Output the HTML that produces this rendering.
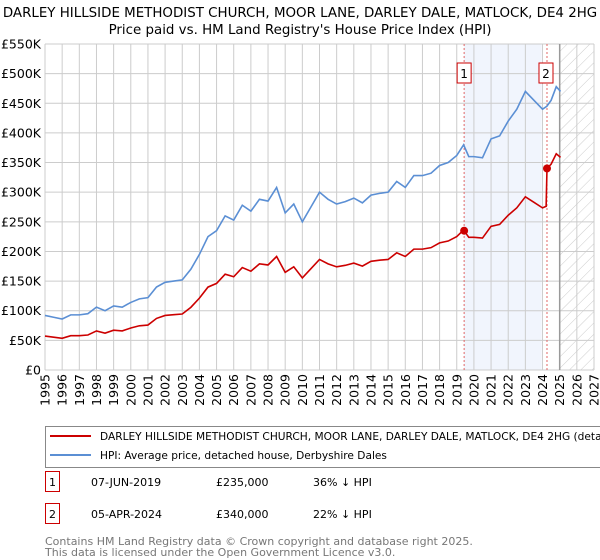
<!DOCTYPE html>
<html><head><meta charset="utf-8">
<style>
body{margin:0;background:#fff;font-family:"Liberation Sans","DejaVu Sans",sans-serif;}
#wrap{position:relative;width:600px;height:560px;overflow:hidden;}
svg text{font-family:"DejaVu Sans","Liberation Sans",sans-serif;}
</style></head>
<body>
<div id="wrap">
<svg id="chart" width="600" height="560" viewBox="0 0 600 560"></svg>
</div>
<script>
const hpiYears=[1995,1995.5,1996,1996.5,1997,1997.5,1998,1998.5,1999,1999.5,2000,2000.5,2001,2001.5,2002,2002.5,2003,2003.5,2004,2004.5,2005,2005.5,2006,2006.5,2007,2007.5,2008,2008.5,2009,2009.5,2010,2010.5,2011,2011.5,2012,2012.5,2013,2013.5,2014,2014.5,2015,2015.5,2016,2016.5,2017,2017.5,2018,2018.5,2019,2019.4,2019.7,2020,2020.5,2021,2021.5,2022,2022.5,2023,2023.5,2024,2024.25,2024.5,2024.8,2025.05];
const hpiValues=[92,89,86,93,93,95,106,100,108,106,114,120,122,140,148,150,152,170,195,225,235,260,253,278,268,288,285,308,265,280,250,275,300,288,280,284,290,282,295,298,300,318,308,328,328,332,345,350,362,380,360,360,358,390,395,420,440,470,455,440,445,455,478,470];
const saleYears=[2019.43,2024.26];
const salePrices=[235,340];
const saleLabels=["1","2"];
const yTicks=[0,50,100,150,200,250,300,350,400,450,500,550];
const xTicks=[1995,1996,1997,1998,1999,2000,2001,2002,2003,2004,2005,2006,2007,2008,2009,2010,2011,2012,2013,2014,2015,2016,2017,2018,2019,2020,2021,2022,2023,2024,2025,2026,2027];

const L=45,R=594,T=44,B=370;
const X=y=>L+(y-1995)*(R-L)/32;
const Y=v=>B-v*(B-T)/550;
const svg=document.getElementById('chart');
const NS='http://www.w3.org/2000/svg';
function mk(tag,attrs,parent){const e=document.createElementNS(NS,tag);for(const k in attrs)e.setAttribute(k,attrs[k]);(parent||svg).appendChild(e);return e;}

let t=mk('text',{x:300,y:17,'text-anchor':'middle','font-size':'13.4',fill:'#000'});t.textContent='DARLEY HILLSIDE METHODIST CHURCH, MOOR LANE, DARLEY DALE, MATLOCK, DE4 2HG';

t=mk('text',{x:300,y:34,'text-anchor':'middle','font-size':'13.4',fill:'#000'});t.textContent="Price paid vs. HM Land Registry's House Price Index (HPI)";


const defs=mk('defs',{});
const pat=mk('pattern',{id:'hatch',width:8,height:8,patternUnits:'userSpaceOnUse',patternTransform:'rotate(45)'},defs);
mk('line',{x1:0,y1:0,x2:0,y2:8,stroke:'#ccc','stroke-width':1},pat);

let sh=mk('rect',{x:X(saleYears[0]),y:T,width:X(2023.95)-X(saleYears[0]),height:B-T,fill:'#eef3fd',opacity:0.8});

let hz=mk('rect',{x:X(2025),y:T,width:R-X(2025),height:B-T,fill:'url(#hatch)'});


const grid=mk('g',{stroke:'#cccccc','stroke-width':1});

xTicks.forEach(y=>mk('line',{x1:X(y),y1:T,x2:X(y),y2:B},grid));
yTicks.forEach(v=>mk('line',{x1:L,y1:Y(v),x2:R,y2:Y(v)},grid));
let nl=mk('line',{x1:X(2025),y1:T,x2:X(2025),y2:B,stroke:'#999','stroke-width':1.5});


yTicks.forEach(v=>{const e=mk('text',{x:41,y:Y(v)+4.5,'text-anchor':'end','font-size':'12.5',fill:'#000'});e.textContent=v===0?'£0':'£'+v+'K';
});
xTicks.forEach(y=>{const e=mk('text',{x:0,y:0,'text-anchor':'end','font-size':'12.5',fill:'#000',transform:`translate(${X(y)+4.5},374) rotate(-90)`});e.textContent=y;
});

saleYears.forEach((y,i)=>{
 const l=mk('line',{x1:X(y),y1:T,x2:X(y),y2:B,stroke:'#e06666','stroke-width':1,'stroke-dasharray':'2,2'});
 
 const bx=X(y)-(i===0?7:8);
 const r=mk('rect',{x:bx,y:63,width:14,height:20,fill:'#fff',stroke:'#cc0000','stroke-width':1});
 
 const tx=mk('text',{x:bx+7,y:78,'text-anchor':'middle','font-size':'12',fill:'#000'});tx.textContent=saleLabels[i];
 
});

function hpiAt(y){for(let i=0;i<hpiYears.length-1;i++){if(y>=hpiYears[i]&&y<=hpiYears[i+1]){const f=(y-hpiYears[i])/(hpiYears[i+1]-hpiYears[i]);return hpiValues[i]+f*(hpiValues[i+1]-hpiValues[i]);}}return hpiValues[hpiValues.length-1];}
let hp=mk('polyline',{points:hpiYears.map((y,i)=>X(y)+','+Y(hpiValues[i])).join(' '),fill:'none',stroke:'#5b8fd4','stroke-width':1.6});


const r1=salePrices[0]/hpiAt(saleYears[0]),r2=salePrices[1]/hpiAt(saleYears[1]);
let pts=[];
hpiYears.forEach((y,i)=>{if(y<saleYears[1])pts.push(X(y)+','+Y(hpiValues[i]*r1));});
pts.push(X(saleYears[1]-0.05)+','+Y(hpiAt(saleYears[1]-0.05)*r1));
pts.push(X(saleYears[1])+','+Y(salePrices[1]));
hpiYears.forEach((y,i)=>{if(y>saleYears[1])pts.push(X(y)+','+Y(hpiValues[i]*r2));});
let pp=mk('polyline',{points:pts.join(' '),fill:'none',stroke:'#cc0000','stroke-width':1.6});

saleYears.forEach((y,i)=>{const c=mk('circle',{cx:X(y),cy:Y(salePrices[i]),r:4,fill:'#cc0000'});
});

const lg=mk('g',{});
mk('rect',{x:45.5,y:426.5,width:560,height:41,fill:'#fff',stroke:'#888','stroke-width':1},lg);
mk('line',{x1:50,y1:436,x2:91,y2:436,stroke:'#cc0000','stroke-width':2},lg);
mk('line',{x1:50,y1:455,x2:91,y2:455,stroke:'#5b8fd4','stroke-width':2},lg);
t=mk('text',{x:100,y:440,'font-size':'10.6',fill:'#000'},lg);t.textContent='DARLEY HILLSIDE METHODIST CHURCH, MOOR LANE, DARLEY DALE, MATLOCK, DE4 2HG (detached house)';

t=mk('text',{x:100,y:459,'font-size':'10.6',fill:'#000'},lg);t.textContent='HPI: Average price, detached house, Derbyshire Dales';


const rows=[["1","07-JUN-2019","£235,000","36% ↓ HPI"],["2","05-APR-2024","£340,000","22% ↓ HPI"]];
rows.forEach((r,i)=>{const yy=484+i*32;
 const b=mk('rect',{x:45.5,y:yy-12.5,width:14,height:20,fill:'#fff',stroke:'#cc0000','stroke-width':1});
 
 const cols=[[52.5,'middle'],[91,'start'],[216,'start'],[313,'start']];
 r.forEach((s,j)=>{const e=mk('text',{x:cols[j][0],y:yy+2,'text-anchor':cols[j][1],'font-size':'11',fill:'#000'});e.textContent=s;
  });
});
t=mk('text',{x:45,y:545,'font-size':'11',fill:'#777'});t.textContent='Contains HM Land Registry data © Crown copyright and database right 2025.';

t=mk('text',{x:45,y:556,'font-size':'11',fill:'#777'});t.textContent='This data is licensed under the Open Government Licence v3.0.';

</script>
</body></html>
